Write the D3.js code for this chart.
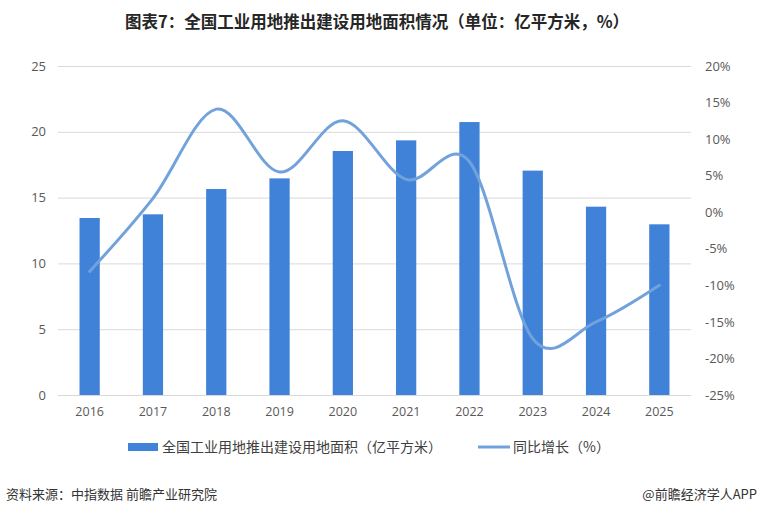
<!DOCTYPE html>
<html>
<head>
<meta charset="utf-8">
<script src="https://cdn.jsdelivr.net/npm/d3@7"></script>
<style>
	body { margin: 0; background: #fff; }
	svg { display: block; font-family: "Noto Sans CJK SC", "Noto Sans", sans-serif; }
</style>
</head>
<body>
<svg></svg>
<script>
var years = ['2016', '2017', '2018', '2019', '2020', '2021', '2022', '2023', '2024', '2025'];
var area = [13.45, 13.73, 15.65, 16.46, 18.54, 19.35, 20.74, 17.05, 14.31, 12.97];
var growth = [-8.1, 1.9, 14.1, 5.5, 12.5, 4.5, 6.9, -17.3, -15.0, -10.0];
var leftTicks = [0, 5, 10, 15, 20, 25];
var rightTicks = [20, 15, 10, 5, 0, -5, -10, -15, -20, -25];

var title = '图表7：全国工业用地推出建设用地面积情况（单位：亿平方米，%）';
var barName = '全国工业用地推出建设用地面积（亿平方米）';
var lineName = '同比增长（%）';
var source = '资料来源：中指数据  前瞻产业研究院';
var credit = '@前瞻经济学人APP';

var W = 760, H = 515;
var barColor = '#3f82d8';
var lineColor = '#72a2dc';

var svg = d3.select('svg')
		.attr('width', W)
		.attr('height', H);

var x = d3.scaleBand()
				.domain(years)
				.range([58, 691])
				.paddingInner(0.68)
				.paddingOuter(0.34);

var yL = d3.scaleLinear()
				.domain([0, 25])
				.range([395, 66]);

var yR = d3.scaleLinear()
				.domain([-25, 20])
				.range([395, 66]);

// gridlines
svg.append('g')
	.selectAll('line')
	.data(leftTicks)
	.enter().append('line')
	.attr('x1', 58)
	.attr('x2', 691)
	.attr('y1', function(d) { return yL(d) + 0.5; })
	.attr('y2', function(d) { return yL(d) + 0.5; })
	.attr('stroke', '#d9d9d9')
	.attr('stroke-width', 1);

var axisFont = function(g) {
	g.select('.domain').remove();
	g.selectAll('.tick line').remove();
	g.selectAll('.tick text')
		.attr('fill', '#595959')
		.style('font-size', '13px')
		.style('font-family', '"Open Sans", "Noto Sans", sans-serif');
};

svg.append('g')
	.attr('transform', 'translate(46, 0)')
	.call(d3.axisLeft(yL).tickValues(leftTicks).tickSize(0).tickPadding(0))
	.call(axisFont);

svg.append('g')
	.attr('transform', 'translate(705, 0)')
	.call(d3.axisRight(yR).tickValues(rightTicks).tickSize(0).tickPadding(0)
		.tickFormat(function(d) { return d + '%'; }))
	.call(axisFont);

svg.append('g')
	.attr('transform', 'translate(0, 405)')
	.call(d3.axisBottom(x).tickSize(0).tickPadding(2))
	.call(axisFont)
	.selectAll('.tick text')
	.style('font-size', '12.5px');

// bars
svg.append('g')
	.selectAll('rect')
	.data(area)
	.enter().append('rect')
	.attr('x', function(d, i) { return x(years[i]); })
	.attr('width', x.bandwidth())
	.attr('y', function(d) { return yL(d); })
	.attr('height', function(d) { return yL(0) - yL(d); })
	.attr('fill', barColor);

// smoothed growth line
var line = d3.line()
				.x(function(d, i) { return x(years[i]) + x.bandwidth() / 2; })
				.y(function(d) { return yR(d); })
				.curve(d3.curveCardinal.tension(0));

svg.append('path')
	.attr('d', line(growth))
	.attr('fill', 'none')
	.attr('stroke', lineColor)
	.attr('stroke-width', 3)
	.attr('stroke-linecap', 'round');

// title
svg.append('text')
	.attr('x', 377)
	.attr('y', 28)
	.attr('text-anchor', 'middle')
	.attr('fill', '#262626')
	.style('font-size', '16.5px')
	.style('font-weight', 'bold')
	.text(title);

// legend
var lg = svg.append('g').attr('transform', 'translate(0, 447)');
lg.append('rect')
	.attr('x', 128).attr('y', -4)
	.attr('width', 30).attr('height', 8)
	.attr('fill', barColor);
lg.append('text')
	.attr('x', 162).attr('y', 5)
	.attr('fill', '#404040')
	.style('font-size', '14px')
	.text(barName);
lg.append('line')
	.attr('x1', 478).attr('x2', 510)
	.attr('y1', 0).attr('y2', 0)
	.attr('stroke', lineColor)
	.attr('stroke-width', 3);
lg.append('text')
	.attr('x', 513).attr('y', 5)
	.attr('fill', '#404040')
	.style('font-size', '14px')
	.text(lineName);

// footer
svg.append('text')
	.attr('x', 6).attr('y', 499)
	.attr('fill', '#333')
	.style('font-size', '13px')
	.text(source);
svg.append('text')
	.attr('x', 757).attr('y', 499)
	.attr('text-anchor', 'end')
	.attr('fill', '#333')
	.style('font-size', '13px')
	.text(credit);
</script>
</body>
</html>
